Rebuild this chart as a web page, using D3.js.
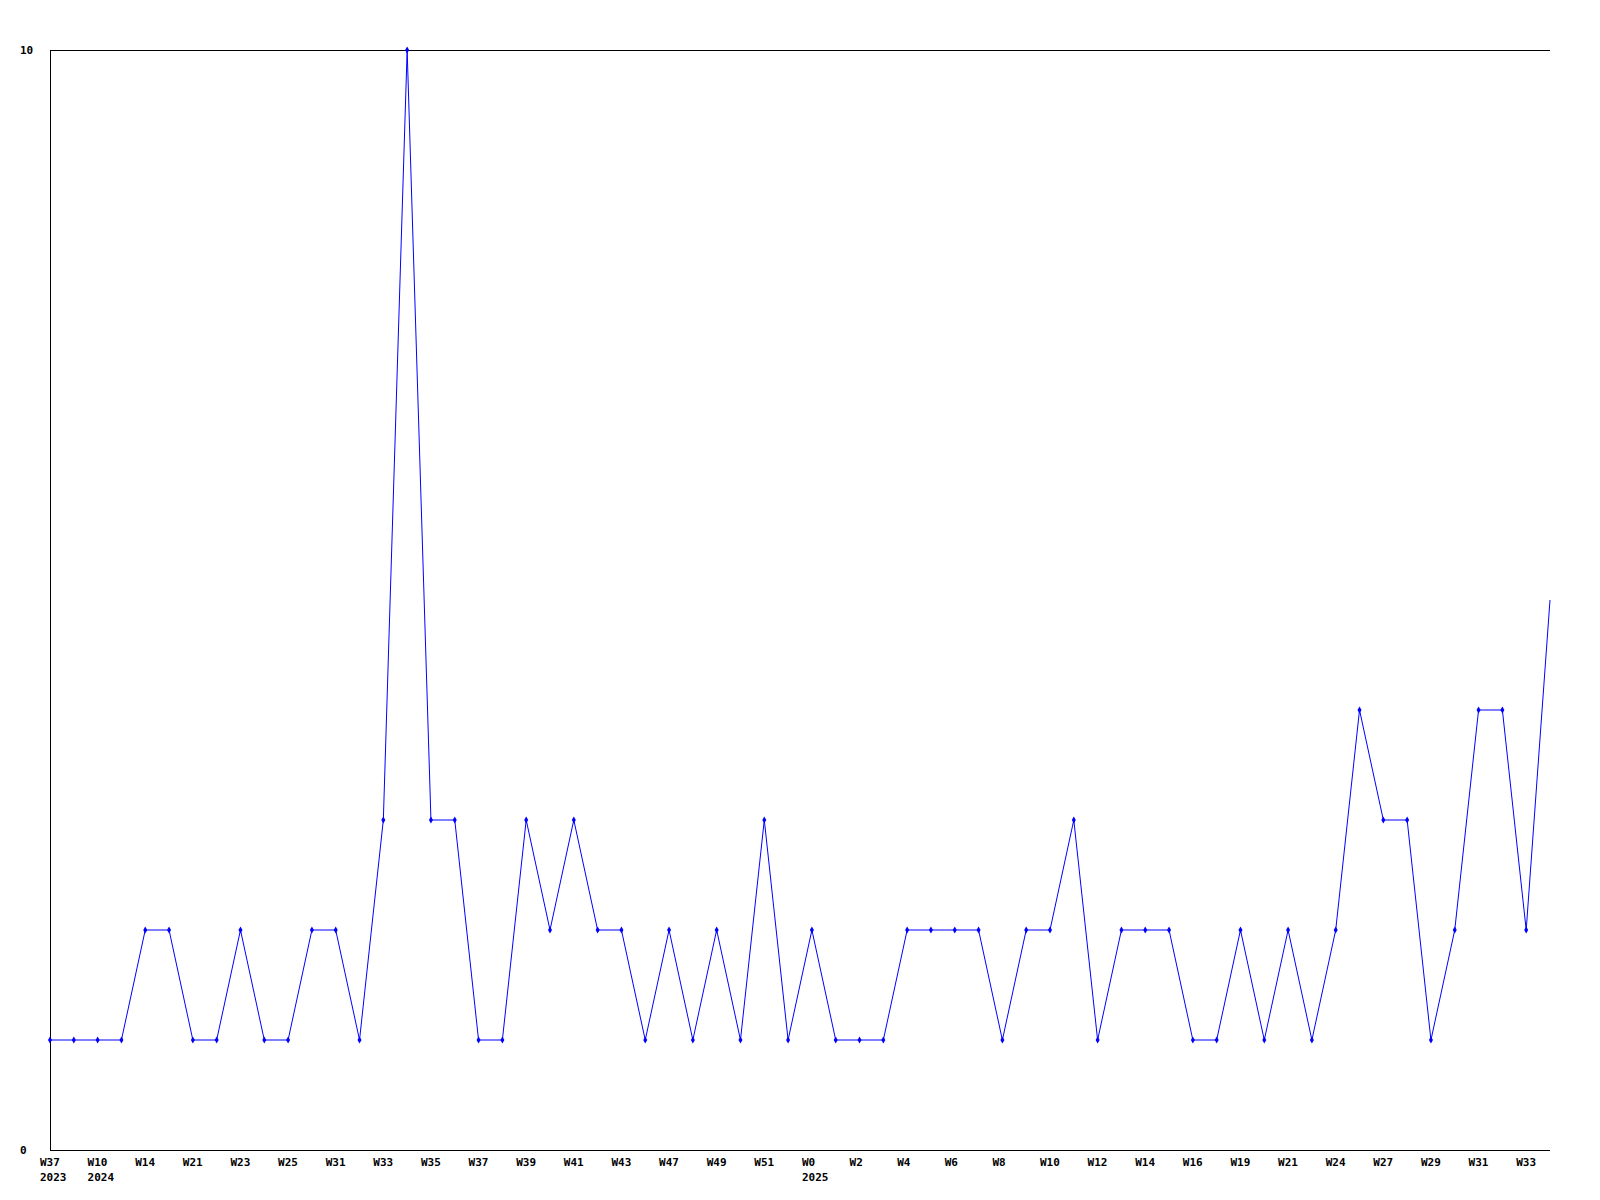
<!DOCTYPE html>
<html>
<head>
<meta charset="utf-8">
<script src="https://cdn.jsdelivr.net/npm/d3@7"></script>
<style>
  html, body { margin: 0; padding: 0; background: #fff; }
  svg text { font-family: "DejaVu Sans Mono", "Liberation Mono", monospace; font-weight: bold; font-size: 11px; fill: #000; }
</style>
</head>
<body>
<svg id="chart" width="1600" height="1200"></svg>
<script>
// Weekly counts (one value per week, 64 weeks)
const values = [1,1,1,1,2,2,1,1,2,1,1,2,2,1,3,10,3,3,1,1,3,2,3,2,2,1,2,1,2,1,3,1,2,1,1,1,2,2,2,2,1,2,2,3,1,2,2,2,1,1,2,1,2,1,2,4,3,3,1,2,4,4,2,5];
// Tick labels shown on every second week
const tickWeeks = ["W37","W10","W14","W21","W23","W25","W31","W33","W35","W37","W39","W41","W43","W47","W49","W51","W0","W2","W4","W6","W8","W10","W12","W14","W16","W19","W21","W24","W27","W29","W31","W33"];
const tickYears = ["2023","2024","","","","","","","","","","","","","","","2025","","","","","","","","","","","","","","",""];
const yTicks = [0, 10];

(function () {
const svg = d3.select("#chart");
const mLeft = 50, mRight = 1550, mTop = 50, mBottom = 1150;

const x = d3.scaleLinear().domain([0, values.length - 1]).range([mLeft, mRight]);
const y = d3.scaleLinear().domain([0, 10]).range([mBottom, mTop]);

// top border line
svg.append("line")
  .attr("x1", mLeft).attr("x2", mRight)
  .attr("y1", y(10) + 0.5).attr("y2", y(10) + 0.5)
  .attr("stroke", "#000").attr("shape-rendering", "crispEdges");

// axes lines
svg.append("line")
  .attr("x1", mLeft + 0.5).attr("x2", mLeft + 0.5)
  .attr("y1", mTop).attr("y2", mBottom + 1)
  .attr("stroke", "#000").attr("shape-rendering", "crispEdges");
svg.append("line")
  .attr("x1", mLeft).attr("x2", mRight)
  .attr("y1", mBottom + 0.5).attr("y2", mBottom + 0.5)
  .attr("stroke", "#000").attr("shape-rendering", "crispEdges");

// y labels
svg.selectAll("text.ylab").data(yTicks).enter().append("text")
  .attr("class", "ylab")
  .attr("x", 20)
  .attr("y", d => y(d))
  .attr("dy", "0.35em")
  .text(d => d);

// x labels (every second week), left-aligned slightly before the tick
const tickIdx = tickWeeks.map((_, i) => i * 2);
const g = svg.selectAll("g.xlab").data(tickIdx).enter().append("g").attr("class", "xlab");
g.each(function(idx, i) {
  const sel = d3.select(this);
  const sx = x(idx) - 10;
  sel.append("text").attr("x", sx).attr("y", 1166).text(tickWeeks[i]);
  if (tickYears[i]) {
    sel.append("text").attr("x", sx).attr("y", 1181).text(tickYears[i]);
  }
});

// line
const line = d3.line().x((d, i) => x(i)).y(d => y(d));
svg.append("path")
  .datum(values)
  .attr("d", line)
  .attr("fill", "none")
  .attr("stroke", "#0000ff")
  .attr("stroke-width", 1);

// markers
svg.selectAll("path.mk").data(values.slice(0, values.length - 1)).enter().append("path")
  .attr("class", "mk")
  .attr("transform", (d, i) => `translate(${x(i)},${y(d)})`)
  .attr("d", d3.symbol().type(d3.symbolDiamond).size(14))
  .attr("fill", "#0000ff");
})();
</script>
</body>
</html>
